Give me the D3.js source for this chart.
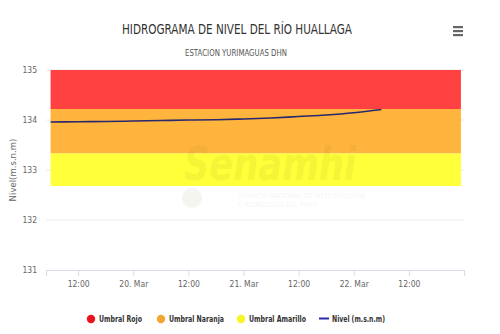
<!DOCTYPE html>
<html><head><meta charset="utf-8">
<script src="https://cdn.jsdelivr.net/npm/d3@7"></script>
<style>
html,body{margin:0;padding:0;background:#fff;}
svg{display:block;}
text{font-family:"Liberation Sans Narrow","DejaVu Sans Condensed","Open Sans",sans-serif;}
</style></head>
<body>
<svg id="chart" width="500" height="334"></svg>
<script>
// ---- data ----
const levelTimes = ["2024-03-19T06:00","2024-03-19T12:00","2024-03-19T18:00","2024-03-20T00:00","2024-03-20T06:00","2024-03-20T12:00","2024-03-20T18:00","2024-03-21T00:00","2024-03-21T06:00","2024-03-21T12:00","2024-03-21T18:00","2024-03-22T00:00","2024-03-22T06:00"];
const levelValues = [133.96,133.965,133.97,133.98,133.99,134.00,134.005,134.02,134.04,134.07,134.10,134.145,134.21];
const bandStart = "2024-03-19T06:00";
const bandEnd = "2024-03-22T23:20";
const bandNames = ["Umbral Rojo","Umbral Naranja","Umbral Amarillo"];
const bandLow = [134.22,133.33,132.68];
const bandHigh = [135.0,134.22,133.33];
const yTicks = [131,132,133,134,135];
const xTickTimes = ["2024-03-19T12:00","2024-03-20T00:00","2024-03-20T12:00","2024-03-21T00:00","2024-03-21T12:00","2024-03-22T00:00","2024-03-22T12:00"];
const xDomain = ["2024-03-19T05:00","2024-03-23T00:00"];
const lineName = "Nivel (m.s.n.m)";

const bandColors = ["#ff4141","#ffb53d","#ffff3a"];
const legendColors = ["#e8131b","#f2a530","#f6f626"];
const lineColor = "#28286e";
const legendLineColor = "#2b2bb0";

const parse = s => new Date(s + ":00Z");
const svg = d3.select("#chart");
const L = 46, R = 464, T = 70, B = 270;

const x = d3.scaleUtc().domain(xDomain.map(parse)).range([L, R]);
const y = d3.scaleLinear().domain([131, 135]).range([B, T]);

// title
svg.append("text").attr("x", 237).attr("y", 34).attr("text-anchor", "middle")
  .attr("font-size", 14.5).attr("fill", "#333")
  .attr("textLength", 230).attr("lengthAdjust", "spacingAndGlyphs")
  .text("HIDROGRAMA DE NIVEL DEL RÍO HUALLAGA");
svg.append("text").attr("x", 236).attr("y", 55.5).attr("text-anchor", "middle")
  .attr("font-size", 8.8).attr("fill", "#555")
  .attr("textLength", 102).attr("lengthAdjust", "spacingAndGlyphs")
  .text("ESTACION YURIMAGUAS DHN");

// hamburger
[27, 31, 35].forEach(yy => svg.append("rect").attr("x", 453).attr("y", yy - 1).attr("width", 10).attr("height", 2.2).attr("fill", "#666"));

// gridlines
const grid = svg.append("g");
yTicks.forEach(v => {
  if (v === 131) return;
  grid.append("line").attr("x1", L).attr("x2", R).attr("y1", y(v)).attr("y2", y(v))
    .attr("stroke", "#ececec").attr("stroke-width", 1);
});

// bands
const bands = svg.append("g");
bandNames.forEach((n, i) => {
  const area = d3.area().x(d => x(d)).y0(y(bandLow[i])).y1(y(bandHigh[i]));
  bands.append("path").datum([parse(bandStart), parse(bandEnd)])
    .attr("d", area).attr("fill", bandColors[i]);
});

// watermark
const wm = svg.append("g").attr("opacity", 0.06).attr("fill", "#6a5a00");
wm.append("text").attr("x", 270).attr("y", 180).attr("text-anchor", "middle")
  .attr("font-size", 46).attr("font-weight", "bold").attr("font-style", "italic")
  .attr("font-family", "DejaVu Sans").attr("textLength", 172).attr("lengthAdjust", "spacingAndGlyphs")
  .text("Senamhi");
wm.append("text").attr("x", 238).attr("y", 198).attr("font-size", 7).text("SERVICIO NACIONAL DE METEOROLOGÍA");
wm.append("text").attr("x", 238).attr("y", 207).attr("font-size", 7).text("E HIDROLOGÍA DEL PERÚ");
wm.append("circle").attr("cx", 192).attr("cy", 198).attr("r", 10);

// line
const line = d3.line().x((d, i) => x(parse(levelTimes[i]))).y(d => y(d)).curve(d3.curveMonotoneX);
svg.append("path").datum(levelValues).attr("d", line)
  .attr("fill", "none").attr("stroke", lineColor).attr("stroke-width", 1.6);

// y axis labels
const ya = svg.append("g");
yTicks.forEach(v => {
  ya.append("text").attr("x", 37).attr("y", y(v) + 3).attr("text-anchor", "end")
    .attr("font-size", 8.5).attr("fill", "#666").text(v);
});
svg.append("text").attr("transform", `translate(16,${(T + B) / 2}) rotate(-90)`)
  .attr("text-anchor", "middle").attr("font-size", 9.5).attr("fill", "#666").text("Nivel(m.s.n.m)");

// x axis
const fmt = d => d.getUTCHours() === 0 ? d3.utcFormat("%d. %b")(d) : d3.utcFormat("%H:%M")(d);
const xa = svg.append("g").attr("transform", `translate(0,${B})`)
  .call(d3.axisBottom(x).tickValues(xTickTimes.map(parse)).tickFormat(fmt).tickSize(6).tickPadding(5));
xa.select(".domain").attr("stroke", "#d8dde6").attr("stroke-width", 1.2);
xa.selectAll(".tick line").attr("stroke", "#d8dde6");
xa.selectAll(".tick text").attr("font-size", 8.5).attr("fill", "#666")
  .attr("font-family", "\"Liberation Sans Narrow\",\"DejaVu Sans Condensed\",sans-serif");

// legend
const lg = svg.append("g");
const legX = [91, 161, 241];
const legW = [43, 55, 57];
bandNames.forEach((n, i) => {
  lg.append("circle").attr("cx", legX[i]).attr("cy", 319).attr("r", 4.2).attr("fill", legendColors[i]);
  lg.append("text").attr("x", legX[i] + 8).attr("y", 322).attr("font-size", 9.5)
    .attr("font-weight", 600).attr("fill", "#333")
    .attr("textLength", legW[i]).attr("lengthAdjust", "spacingAndGlyphs").text(n);
});
lg.append("line").attr("x1", 319).attr("x2", 329).attr("y1", 318.5).attr("y2", 318.5)
  .attr("stroke", legendLineColor).attr("stroke-width", 2);
lg.append("text").attr("x", 332).attr("y", 322).attr("font-size", 9.5)
  .attr("font-weight", 600).attr("fill", "#333")
  .attr("textLength", 53).attr("lengthAdjust", "spacingAndGlyphs").text(lineName);
</script>
</body></html>
